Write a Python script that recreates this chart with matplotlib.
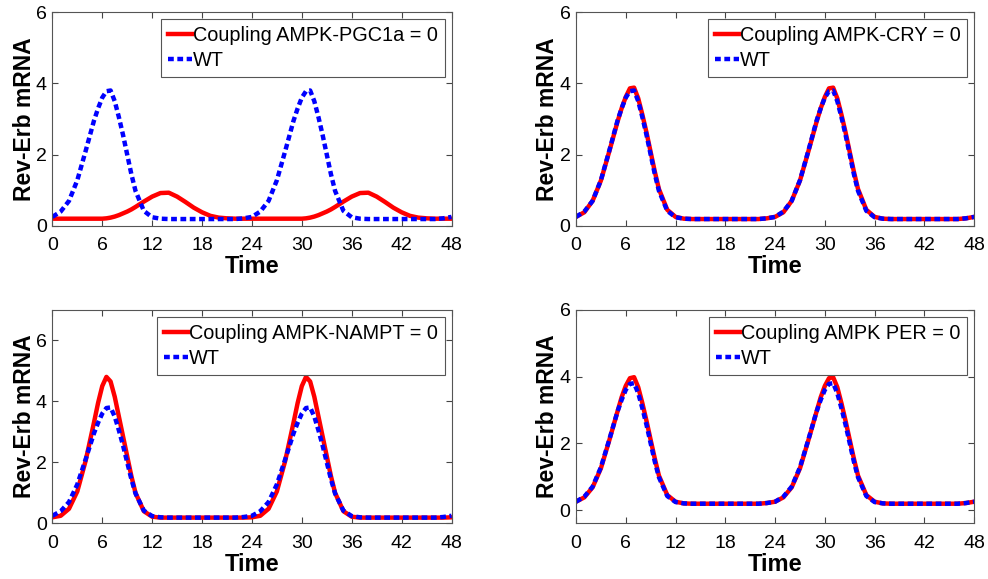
import numpy as np
import matplotlib.pyplot as plt

plt.rcParams['font.family'] = ['Liberation Sans', 'DejaVu Sans']

# time points (h)
time = [0, 1, 2, 3, 4, 5, 5.5, 6, 6.5, 7, 7.5, 8, 8.5, 9, 9.5, 10, 11, 12, 13, 14,
        15, 16, 17, 18, 19, 20, 21, 22, 23,
        24, 25, 26, 27, 28, 29, 29.5, 30, 30.5, 31, 31.5, 32, 32.5, 33, 33.5, 34, 35, 36, 37, 38,
        39, 40, 41, 42, 43, 44, 45, 46, 47, 48]

wt = [0.25, 0.4, 0.7, 1.28, 2.1, 2.95, 3.3, 3.6, 3.78, 3.8, 3.5, 3.05, 2.55, 2.0, 1.45, 0.98, 0.42, 0.24, 0.2, 0.19,
      0.19, 0.19, 0.19, 0.19, 0.19, 0.19, 0.19, 0.19, 0.21,
      0.25, 0.4, 0.7, 1.28, 2.1, 2.95, 3.3, 3.6, 3.78, 3.8, 3.5, 3.05, 2.55, 2.0, 1.45, 0.98, 0.42, 0.24, 0.2, 0.19,
      0.19, 0.19, 0.19, 0.19, 0.19, 0.19, 0.19, 0.19, 0.21, 0.25]

pgc1a_off = [0.2, 0.2, 0.2, 0.2, 0.2, 0.2, 0.2, 0.2, 0.21, 0.23, 0.26, 0.3, 0.35, 0.4, 0.46, 0.53, 0.68, 0.82, 0.92, 0.93,
             0.82, 0.67, 0.51, 0.38, 0.28, 0.23, 0.21, 0.2, 0.2,
             0.2, 0.2, 0.2, 0.2, 0.2, 0.2, 0.2, 0.2, 0.21, 0.23, 0.26, 0.3, 0.35, 0.4, 0.46, 0.53, 0.68, 0.82, 0.92, 0.93,
             0.82, 0.67, 0.51, 0.38, 0.28, 0.23, 0.21, 0.2, 0.2, 0.2]

cry_off = [0.25, 0.38, 0.7, 1.27, 2.08, 2.92, 3.3, 3.62, 3.86, 3.88, 3.58, 3.12, 2.62, 2.07, 1.52, 1.03, 0.45, 0.25, 0.2, 0.19,
           0.19, 0.19, 0.19, 0.19, 0.19, 0.19, 0.19, 0.19, 0.21,
           0.25, 0.38, 0.7, 1.27, 2.08, 2.92, 3.3, 3.62, 3.86, 3.88, 3.58, 3.12, 2.62, 2.07, 1.52, 1.03, 0.45, 0.25, 0.2, 0.19,
           0.19, 0.19, 0.19, 0.19, 0.19, 0.19, 0.19, 0.19, 0.21, 0.25]

nampt_off = [0.2, 0.25, 0.48, 1.05, 2.05, 3.3, 3.95, 4.5, 4.8, 4.65, 4.15, 3.5, 2.85, 2.2, 1.55, 1.0, 0.4, 0.22, 0.19, 0.19,
             0.19, 0.19, 0.19, 0.19, 0.19, 0.19, 0.19, 0.19, 0.19,
             0.2, 0.25, 0.48, 1.05, 2.05, 3.3, 3.95, 4.5, 4.8, 4.65, 4.15, 3.5, 2.85, 2.2, 1.55, 1.0, 0.4, 0.22, 0.19, 0.19,
             0.19, 0.19, 0.19, 0.19, 0.19, 0.19, 0.19, 0.19, 0.19, 0.2]

per_off = [0.25, 0.38, 0.68, 1.25, 2.08, 2.95, 3.38, 3.72, 3.95, 3.98, 3.68, 3.2, 2.67, 2.1, 1.54, 1.03, 0.45, 0.25, 0.2, 0.19,
           0.19, 0.19, 0.19, 0.19, 0.19, 0.19, 0.19, 0.19, 0.21,
           0.25, 0.38, 0.68, 1.25, 2.08, 2.95, 3.38, 3.72, 3.95, 3.98, 3.68, 3.2, 2.67, 2.1, 1.54, 1.03, 0.45, 0.25, 0.2, 0.19,
           0.19, 0.19, 0.19, 0.19, 0.19, 0.19, 0.19, 0.19, 0.21, 0.25]

labels = ['Coupling AMPK-PGC1a = 0', 'Coupling AMPK-CRY = 0',
          'Coupling AMPK-NAMPT = 0', 'Coupling AMPK PER = 0']
mutants = [pgc1a_off, cry_off, nampt_off, per_off]
ylims = [(0, 6), (0, 6), (0, 7), (-0.4, 6)]
xticks = [0, 6, 12, 18, 24, 30, 36, 42, 48]
yticks = [0, 2, 4, 6]


def plot_panel(ax, mutant, label, ylim):
    ax.plot(time, mutant, color='#ff0000', lw=3.2, label=label)
    ax.plot(time, wt, color='#0000ff', lw=3.2, dashes=(1.3, 0.8), label='WT')
    ax.set_xlim(0, 48)
    ax.set_ylim(*ylim)
    ax.set_xticks(xticks)
    ax.set_yticks(yticks)
    ax.tick_params(direction='in', top=True, right=True, length=4, width=0.8,
                   labelsize=14, color='#444444')
    ax.tick_params(axis='x', pad=8)
    ax.tick_params(axis='y', pad=4)
    for s in ax.spines.values():
        s.set_color('#555555')
        s.set_linewidth(0.8)
    ax.set_xlabel('Time', fontsize=17, fontweight='bold', labelpad=1)
    ax.set_ylabel('Rev-Erb mRNA', fontsize=16.5, fontweight='bold', labelpad=0)
    leg = ax.legend(loc='upper right', fontsize=14.3, handlelength=1.2, handletextpad=0.05,
                    borderpad=0.35, labelspacing=0.3, fancybox=False, framealpha=1,
                    borderaxespad=0.35)
    leg.get_frame().set_edgecolor('#555555')
    leg.get_frame().set_linewidth(0.8)


fig = plt.figure(figsize=(9.88, 5.79), dpi=100)
positions = [[0.053, 0.610, 0.404, 0.369], [0.583, 0.610, 0.403, 0.369],
             [0.053, 0.096, 0.404, 0.369], [0.583, 0.096, 0.403, 0.369]]
for pos, mutant, label, ylim in zip(positions, mutants, labels, ylims):
    ax = fig.add_axes(pos)
    plot_panel(ax, mutant, label, ylim)

fig.savefig('out.png', dpi=100)
